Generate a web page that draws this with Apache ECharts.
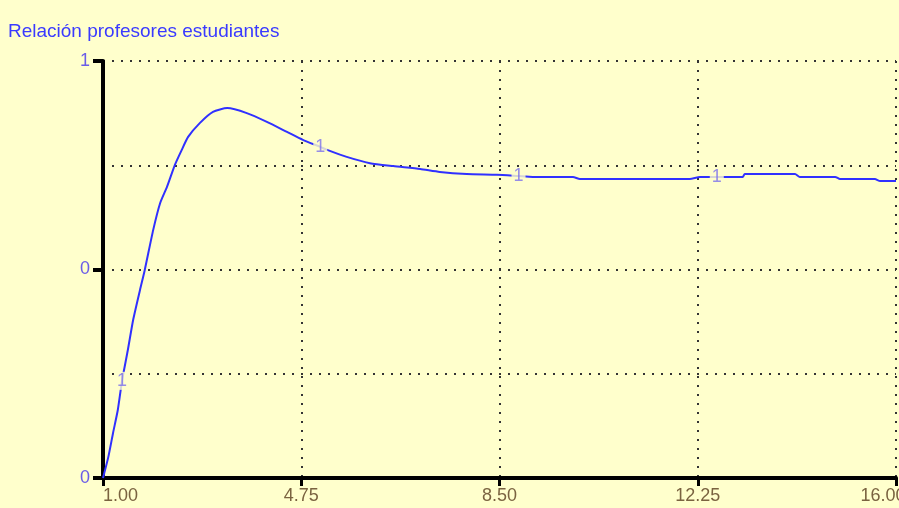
<!DOCTYPE html>
<html>
<head>
<meta charset="utf-8">
<script src="https://cdn.jsdelivr.net/npm/echarts@6/dist/echarts.min.js"></script>
<style>html,body{margin:0;padding:0;background:#ffffcc;}#c{width:899px;height:508px;}</style>
</head>
<body>
<div id="c"></div>
<script>
const titleText = 'Relación profesores estudiantes';
const times = [1.00, 1.10, 1.19, 1.28, 1.36, 1.47, 1.57, 1.70, 1.79, 1.95, 2.08, 2.21, 2.36, 2.49, 2.61, 2.83, 3.08, 3.35, 3.72, 4.10, 4.48, 4.78, 5.11, 5.24, 5.61, 6.05, 6.49, 7.00, 7.37, 7.88, 8.45, 8.86, 9.13, 9.89, 10.02, 12.10, 12.29, 12.61, 13.10, 13.14, 14.09, 14.18, 14.85, 14.94, 15.60, 15.70, 16.00];
const values = [0, 0.050, 0.108, 0.163, 0.233, 0.307, 0.379, 0.451, 0.499, 0.595, 0.659, 0.698, 0.751, 0.787, 0.818, 0.851, 0.878, 0.887, 0.875, 0.854, 0.830, 0.811, 0.794, 0.787, 0.770, 0.755, 0.748, 0.741, 0.734, 0.729, 0.727, 0.724, 0.722, 0.722, 0.717, 0.717, 0.722, 0.722, 0.722, 0.729, 0.729, 0.722, 0.722, 0.717, 0.717, 0.712, 0.712];
const markerTimes = [1.36, 5.11, 8.86, 12.61];
const markerText = '1';
const xTickLabels = ['1.00', '4.75', '8.50', '12.25', '16.00'];
const yTickLabels = {0: '0', 0.5: '0', 1: '1'};

const lineData = times.map((t, i) => [t, values[i]]);
const markerData = markerTimes.map(t => { const i = times.indexOf(t); return [times[i], values[i]]; });

const chart = echarts.init(document.getElementById('c'), null, {renderer: 'canvas'});
const font = 'Liberation Sans, Arial, sans-serif';
const xLabelColor = '#7a6340';
chart.setOption({
  backgroundColor: '#ffffcc',
  animation: false,
  title: {
    text: titleText, left: 8, top: 22, padding: 0,
    textStyle: {color: '#3a3aff', fontSize: 19, fontWeight: 'normal', fontFamily: font}
  },
  grid: {left: 103, right: 3, top: 61, bottom: 30, containLabel: false, outerBoundsMode: 'none'},
  xAxis: {
    type: 'value', min: 1, max: 16, interval: 3.75,
    axisLine: {show: true, onZero: false, lineStyle: {color: '#000', width: 4}},
    axisTick: {show: true, length: 8, lineStyle: {color: '#000', width: 3}},
    axisLabel: {
      color: xLabelColor, fontSize: 18, fontFamily: font, margin: 9,
      showMaxLabel: true, showMinLabel: true, alignMinLabel: 'left', hideOverlap: false,
      rich: {last: {color: xLabelColor, fontSize: 18, fontFamily: font, padding: [0, 26, 0, 0]}},
      formatter: v => {
        const idx = Math.round((v - 1) / 3.75);
        return idx === xTickLabels.length - 1 ? '{last|' + xTickLabels[idx] + '}' : xTickLabels[idx];
      }
    },
    splitLine: {show: true, lineStyle: {color: '#333', width: 2, type: [2, 7]}}
  },
  yAxis: {
    type: 'value', min: 0, max: 1, interval: 0.5,
    axisLine: {show: true, lineStyle: {color: '#000', width: 4}},
    axisTick: {show: true, length: 10, lineStyle: {color: '#000', width: 4}},
    minorTick: {show: false, splitNumber: 2},
    minorSplitLine: {show: true, lineStyle: {color: '#333', width: 2, type: [2, 7]}},
    axisLabel: {
      color: '#6a5ce8', fontSize: 18, fontFamily: font, margin: 13,
      formatter: v => yTickLabels[v]
    },
    splitLine: {show: true, lineStyle: {color: '#333', width: 2, type: [2, 7]}}
  },
  series: [
    {
      type: 'line', data: lineData, showSymbol: false, symbol: 'none',
      smooth: 0.2,
      lineStyle: {color: '#3030ff', width: 2}, z: 3
    },
    {
      type: 'scatter', data: markerData, symbolSize: 1,
      itemStyle: {color: 'rgba(0,0,0,0)'}, z: 4,
      label: {
        show: true, position: 'inside', formatter: markerText,
        color: '#7c70ec', fontSize: 18, fontFamily: font,
        backgroundColor: '#ffffcc', padding: [0, 2]
      }
    }
  ]
});
</script>
</body>
</html>
